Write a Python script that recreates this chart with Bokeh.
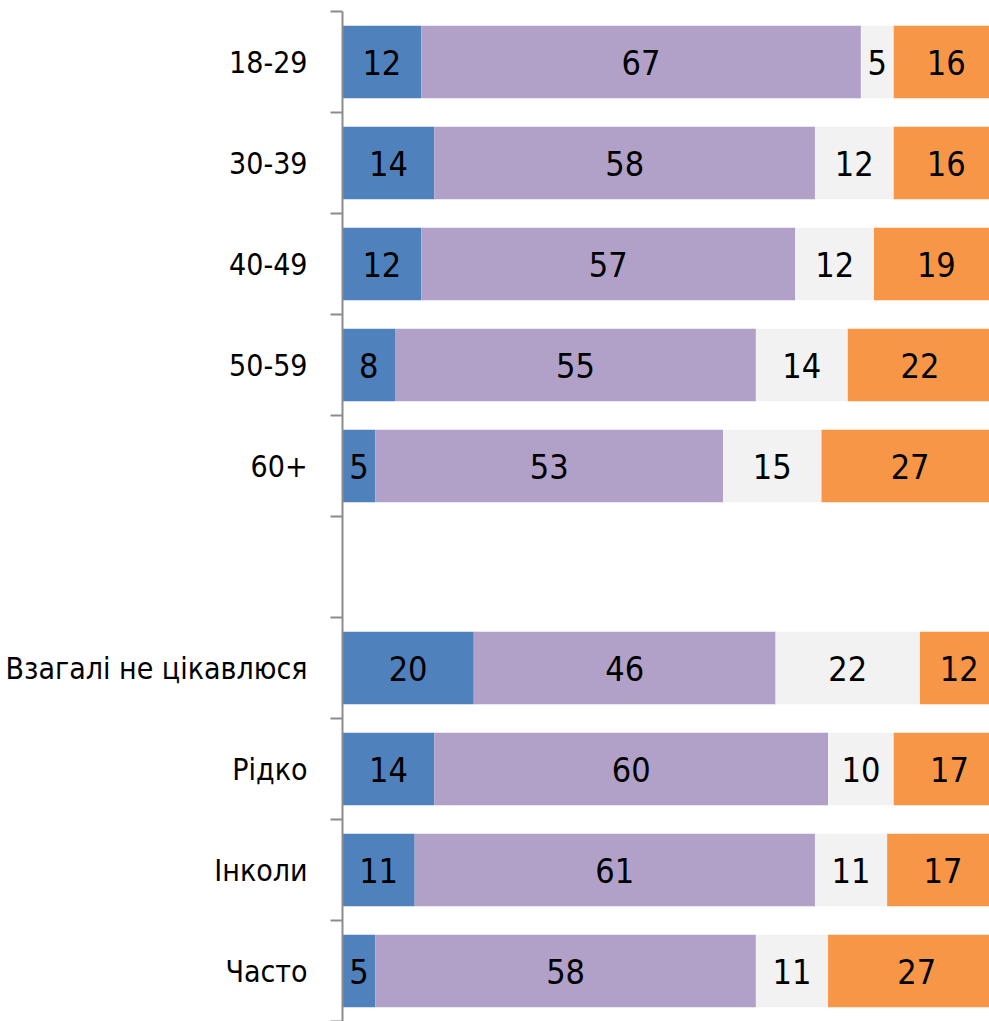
import numpy as np
from bokeh.plotting import figure
from bokeh.models import Range1d, FixedTicker, ColumnDataSource
from bokeh.core.properties import value
from bokeh.embed import file_html
from bokeh.resources import INLINE

# Data (top to bottom; "" is an empty spacer row)
categories = ["18-29", "30-39", "40-49", "50-59", "60+", "",
              "Взагалі не цікавлюся", "Рідко", "Інколи", "Часто"]
blue   = [12, 14, 12, 8, 5, None, 20, 14, 11, 5]
purple = [67, 58, 57, 55, 53, None, 46, 60, 61, 58]
grey   = [5, 12, 12, 14, 15, None, 22, 10, 11, 11]
orange = [16, 16, 19, 22, 27, None, 12, 17, 17, 27]

series = [blue, purple, grey, orange]
colors = ["#4f81bd", "#b1a0c7", "#f2f2f2", "#f79646"]

FONT = "DejaVu Sans Condensed"
n = len(categories)
ypos = [n - 0.5 - i for i in range(n)]

p = figure(width=989, height=1021, output_backend="svg", toolbar_location=None,
           x_range=Range1d(0, 98.6), y_range=Range1d(0.0, 10),
           min_border_left=342, min_border_top=11, min_border_bottom=0,
           min_border_right=0)
p.outline_line_color = None
p.background_fill_color = "white"
p.border_fill_color = "white"
p.xaxis.visible = False
p.xgrid.visible = False
p.ygrid.visible = False

rows = [i for i in range(n) if blue[i] is not None]
left = np.zeros(len(rows))
for vals, col in zip(series, colors):
    v = np.array([vals[i] for i in rows], dtype=float)
    y = [ypos[i] for i in rows]
    src = ColumnDataSource(dict(y=y, left=left, right=left + v,
                                mid=left + v / 2, lab=[str(int(a)) for a in v]))
    p.hbar(y="y", left="left", right="right", height=0.72, source=src,
           fill_color=col, line_color=None)
    p.text(x="mid", y="y", text="lab", source=src, text_align="center",
           text_baseline="middle", text_font=value(FONT),
           text_font_size="34px", text_color="black")
    left = left + v

yaxis = p.yaxis[0]
yaxis.ticker = FixedTicker(ticks=ypos, minor_ticks=list(range(0, n + 1)))
yaxis.major_label_overrides = {ypos[i]: categories[i] if categories[i] else " "
                               for i in range(n)}
yaxis.major_tick_line_color = None
yaxis.major_tick_out = 12
yaxis.major_tick_in = 0
yaxis.minor_tick_out = 12
yaxis.minor_tick_in = 0
yaxis.minor_tick_line_color = "#8c8c8c"
yaxis.minor_tick_line_width = 2
yaxis.axis_line_color = "#8c8c8c"
yaxis.axis_line_width = 2
yaxis.major_label_standoff = 23
yaxis.major_label_text_font = FONT
yaxis.major_label_text_font_size = "30px"
yaxis.major_label_text_color = "black"

open("out.html", "w").write(file_html(p, INLINE))
